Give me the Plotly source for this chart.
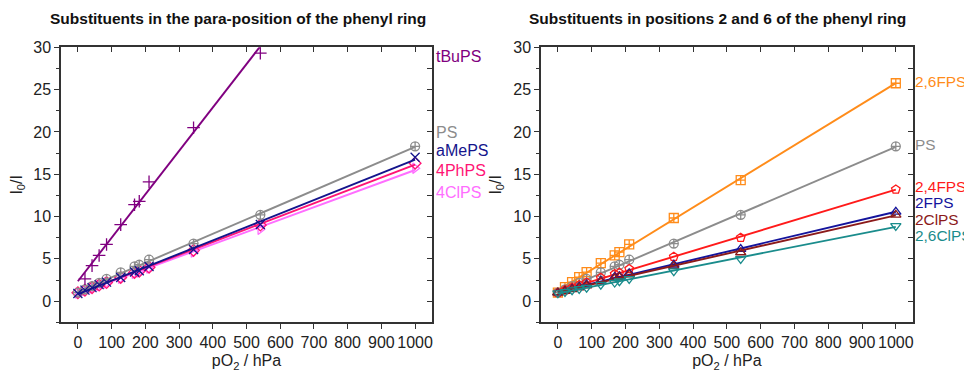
import numpy as np
import plotly.graph_objects as go

# ---------------- data ----------------
pO2 = [0, 21, 42, 63, 85, 127, 168, 182, 211, 343, 541, 1000]

# left panel: para-substituents
tBuPS_x = [21, 42, 63, 85, 127, 168, 182, 211, 343, 541]
tBuPS = [2.64, 4.2, 5.4, 6.7, 9.04, 11.4, 11.8, 14.1, 20.5, 29.3]
PS = [1.0, 1.38, 1.77, 2.17, 2.64, 3.4, 4.1, 4.3, 4.9, 6.8, 10.2, 18.3]
aMePS = [0.9, 1.3, 1.6, 1.95, 2.25, 2.8, 3.45, 3.6, 4.1, 6.1, 9.05, 17.0]
PhPS4 = [1.0, 1.3, 1.6, 1.9, 2.2, 2.8, 3.4, 3.55, 4.0, 6.0, 9.0, 16.3]
ClPS4 = [0.95, 1.25, 1.55, 1.85, 2.15, 2.7, 3.3, 3.45, 3.9, 5.8, 8.5, 15.7]

# right panel: 2,6-substituents
FPS26 = [1.0, 1.65, 2.24, 2.83, 3.42, 4.5, 5.4, 5.8, 6.7, 9.83, 14.3, 25.75]
FPS24 = [1.0, 1.3, 1.6, 1.9, 2.2, 2.75, 3.2, 3.35, 3.8, 5.25, 7.5, 13.2]
FPS2 = [1.0, 1.2, 1.45, 1.7, 1.95, 2.4, 2.85, 2.95, 3.3, 4.3, 6.15, 10.55]
ClPS2 = [1.0, 1.2, 1.4, 1.6, 1.85, 2.3, 2.7, 2.85, 3.15, 4.15, 5.75, 10.2]
ClPS26 = [0.95, 1.1, 1.3, 1.45, 1.6, 1.95, 2.2, 2.35, 2.64, 3.54, 5.0, 8.9]

x_ticks = [0, 100, 200, 300, 400, 500, 600, 700, 800, 900, 1000]
y_ticks = [0, 5, 10, 15, 20, 25, 30]

# drawn in this order (last on top)
left_series = [
    ("4ClPS", pO2, ClPS4, "#ff6eff", "triangle-right-open", 12.8),
    ("4PhPS", pO2, PhPS4, "#ff1475", "diamond-open", 15.4),
    ("PS", pO2, PS, "#8c8c8c", "circle-cross-open", 19.9),
    ("aMePS", pO2, aMePS, "#14148c", "x-thin-open", 17.8),
    ("tBuPS", tBuPS_x, tBuPS, "#800080", "cross-thin-open", 28.9),
]
right_series = [
    ("2,6FPS", pO2, FPS26, "#ff8c1a", "square-cross-open", 26.0),
    ("PS", pO2, PS, "#8c8c8c", "circle-cross-open", 18.5),
    ("2,4FPS", pO2, FPS24, "#ff1a1a", "pentagon-open", 13.5),
    ("2FPS", pO2, FPS2, "#14149c", "triangle-up-open", 11.7),
    ("2ClPS", pO2, ClPS2, "#8b1a1a", "triangle-up-open", 9.6),
    ("2,6ClPS", pO2, ClPS26, "#1a8c8c", "triangle-down-open", 7.7),
]

FONT = "Liberation Sans, Arial, sans-serif"
fig = go.Figure()

def add_panel(series, xa, ya, label_x, label_size):
    for name, xs, ys, col, sym, ly in series:
        k, b = np.polyfit(xs, ys, 1)
        xf = np.array([pO2[0], pO2[-1]], dtype=float)
        fig.add_trace(go.Scatter(x=xf, y=k * xf + b, mode="lines",
                                 line=dict(color=col, width=1.9),
                                 xaxis=xa, yaxis=ya, showlegend=False,
                                 hoverinfo="skip"))
        fig.add_trace(go.Scatter(x=xs, y=ys, mode="markers", name=name,
                                 marker=dict(symbol=sym, size=9, color=col,
                                             line=dict(color=col, width=1.3)),
                                 xaxis=xa, yaxis=ya, showlegend=False))
        fig.add_annotation(x=label_x, y=ly, xref="paper", yref=ya, text=name,
                           showarrow=False, xanchor="left", yanchor="middle",
                           font=dict(family=FONT, size=label_size, color=col))

add_panel(left_series, "x", "y", 0.4418, 16)
add_panel(right_series, "x2", "y2", 0.9390, 15.4)

# placeholder traces so the mirrored tick axes are drawn
for xa, ya in [("x3", "y3"), ("x4", "y4")]:
    fig.add_trace(go.Scatter(x=[None], y=[None], xaxis=xa, yaxis=ya,
                             showlegend=False, hoverinfo="skip"))

XR = [-50, 1050]
YR = [-2.5, 30]
dom_left = [0.0550, 0.4398]
dom_right = [0.5529, 0.9385]
dom_y = [0.1482, 0.8935]
tickfont = dict(family=FONT, size=16, color="#222")
axline = dict(showline=True, linecolor="#333", linewidth=1.5, zeroline=False,
              showgrid=False, automargin=False)

def xaxis_main(dom, anchor):
    return dict(domain=dom, anchor=anchor, range=XR, tickvals=x_ticks,
                ticks="outside", ticklen=5, tickcolor="#333", tickwidth=1.2,
                tickfont=tickfont,
                title=dict(text="pO<sub>2</sub> / hPa", standoff=5,
                           font=dict(family=FONT, size=16, color="#222")),
                **axline)

def yaxis_main(anchor):
    return dict(domain=dom_y, anchor=anchor, range=YR, tickvals=y_ticks,
                ticks="outside", ticklen=5, tickcolor="#333", tickwidth=1.2,
                tickfont=tickfont,
                minor=dict(dtick=2.5, tick0=0, ticks="outside", ticklen=3,
                           tickcolor="#333", tickwidth=1),
                title=dict(text="I<sub>0</sub>/I", standoff=8,
                           font=dict(family=FONT, size=16, color="#222")),
                **axline)

def xaxis_top(dom, overlay, anchor):
    return dict(domain=dom, overlaying=overlay, anchor=anchor, side="top",
                range=XR, tickvals=x_ticks, ticks="inside", ticklen=5,
                tickcolor="#333", tickwidth=1.2, showticklabels=False,
                **axline)

def yaxis_right(overlay, anchor):
    return dict(domain=dom_y, overlaying=overlay, anchor=anchor, side="right",
                range=YR, dtick=2.5, tick0=0, ticks="inside", ticklen=5,
                tickcolor="#333", tickwidth=1.2, showticklabels=False,
                **axline)

fig.update_layout(
    width=964, height=369,
    margin=dict(l=0, r=0, t=0, b=0, autoexpand=False),
    paper_bgcolor="white", plot_bgcolor="white",
    xaxis=xaxis_main(dom_left, "y"),
    yaxis=yaxis_main("x"),
    xaxis2=xaxis_main(dom_right, "y2"),
    yaxis2=yaxis_main("x2"),
    xaxis3=xaxis_top(dom_left, "x", "y3"),
    yaxis3=yaxis_right("y", "x3"),
    xaxis4=xaxis_top(dom_right, "x2", "y4"),
    yaxis4=yaxis_right("y2", "x4"),
)

fig.add_annotation(x=0.2386, y=0.9702, xref="paper", yref="paper",
                   xanchor="center", yanchor="middle",
                   text="<b>Substituents in the para-position of the phenyl ring</b>",
                   showarrow=False, font=dict(family=FONT, size=15.5, color="#111"))
fig.add_annotation(x=0.736, y=0.9702, xref="paper", yref="paper",
                   xanchor="center", yanchor="middle",
                   text="<b>Substituents in positions 2 and 6 of the phenyl ring</b>",
                   showarrow=False, font=dict(family=FONT, size=15.5, color="#111"))

fig.write_html("out.html")
